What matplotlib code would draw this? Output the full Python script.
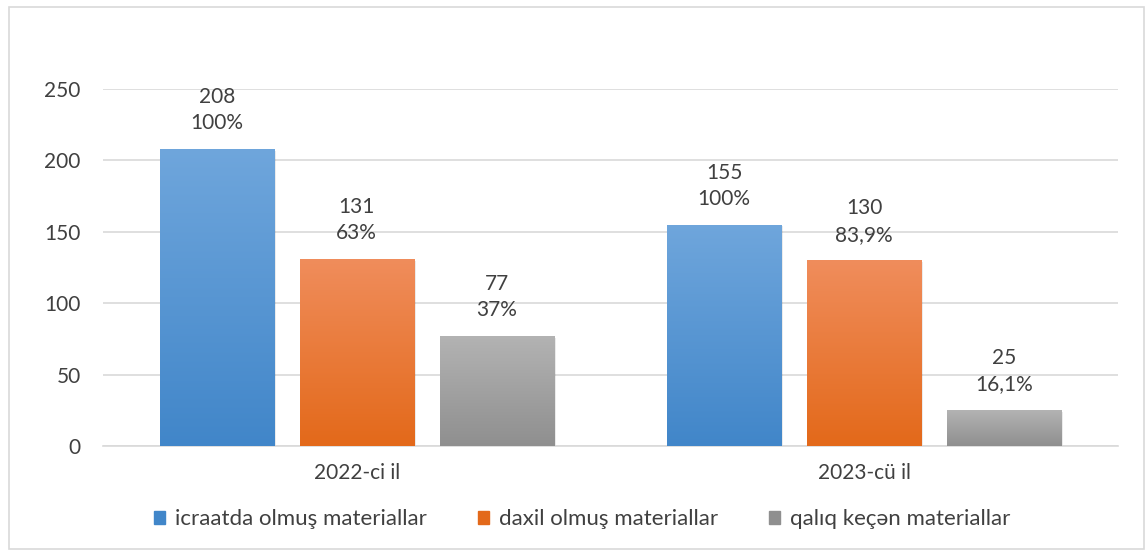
import numpy as np
import matplotlib.pyplot as plt
from matplotlib.colors import LinearSegmentedColormap
from matplotlib.patches import Rectangle

categories = ["2022-ci il", "2023-cü il"]
series_names = ["icraatda olmuş materiallar", "daxil olmuş materiallar", "qalıq keçən materiallar"]
icraatda = [208, 155]
daxil = [131, 130]
qaliq = [77, 25]
pct_icraatda = ["100%", "100%"]
pct_daxil = ["63%", "83,9%"]
pct_qaliq = ["37%", "16,1%"]

values = [icraatda, daxil, qaliq]
pcts = [pct_icraatda, pct_daxil, pct_qaliq]
grad = [("#6fa6dc", "#4186c9"), ("#f08d5c", "#e3691a"), ("#b3b3b3", "#8f8f8f")]
solid = ["#5b9bd5", "#ed7d31", "#a5a5a5"]

plt.rcParams['font.family'] = ['Lato', 'DejaVu Sans']
txt = "#404040"

fig = plt.figure(figsize=(11.46, 5.54), dpi=100)
fig.patches.append(Rectangle((9 / 1146, 5 / 554), 1135 / 1146, 542 / 554,
                             transform=fig.transFigure, fill=False,
                             edgecolor="#d9d9d9", lw=1.2))
ax = fig.add_axes([103 / 1146, 108 / 554, 1015 / 1146, 357 / 554])

x = np.arange(len(categories))
width = 0.225
offs = [-0.276, 0, 0.276]
grad_img = np.linspace(1, 0, 256).reshape(-1, 1)

for i in range(3):
    cmap = LinearSegmentedColormap.from_list("g%d" % i, [grad[i][1], grad[i][0]])
    bars = ax.bar(x + offs[i], values[i], width, color=solid[i], zorder=3, label=series_names[i])
    for j, b in enumerate(bars):
        # soft shadow on the right side
        ax.add_patch(Rectangle((b.get_x() + 0.004, 0), b.get_width(), b.get_height() - 1.2,
                               color="#000000", alpha=0.08, zorder=2.5, lw=0))
        im = ax.imshow(grad_img, cmap=cmap, aspect="auto", zorder=3.1,
                       extent=[b.get_x(), b.get_x() + b.get_width(), 0, b.get_height()])
        im.set_clip_path(b)
        ax.text(b.get_x() + b.get_width() / 2, b.get_height() + 11,
                "%d\n%s" % (values[i][j], pcts[i][j]), ha="center", va="bottom",
                fontsize=15, color=txt, linespacing=1.4, clip_on=False)

ax.set_xlim(-0.5, 1.5)
ax.set_ylim(0, 250)
ax.set_yticks(range(0, 251, 50))
ax.set_xticks(x)
ax.set_xticklabels(categories)
ax.grid(axis="y", color="#d9d9d9", lw=1.2, zorder=0)
for s in ["top", "right", "left"]:
    ax.spines[s].set_visible(False)
ax.spines["bottom"].set_color("#d9d9d9")
ax.spines["bottom"].set_linewidth(1.2)
ax.tick_params(axis="both", length=0, labelsize=15, colors=txt)
ax.tick_params(axis="y", pad=16)
ax.tick_params(axis="x", pad=12)

fig.legend([plt.Rectangle((0, 0), 1, 1, color=grad[k][1]) for k in range(3)], series_names,
           loc="center", bbox_to_anchor=(0.508, 0.063), ncol=3, frameon=False,
           fontsize=16, labelcolor=txt, handlelength=0.5, handleheight=0.5,
           handletextpad=0.45, columnspacing=2.3)

fig.savefig("out.png", dpi=100)
